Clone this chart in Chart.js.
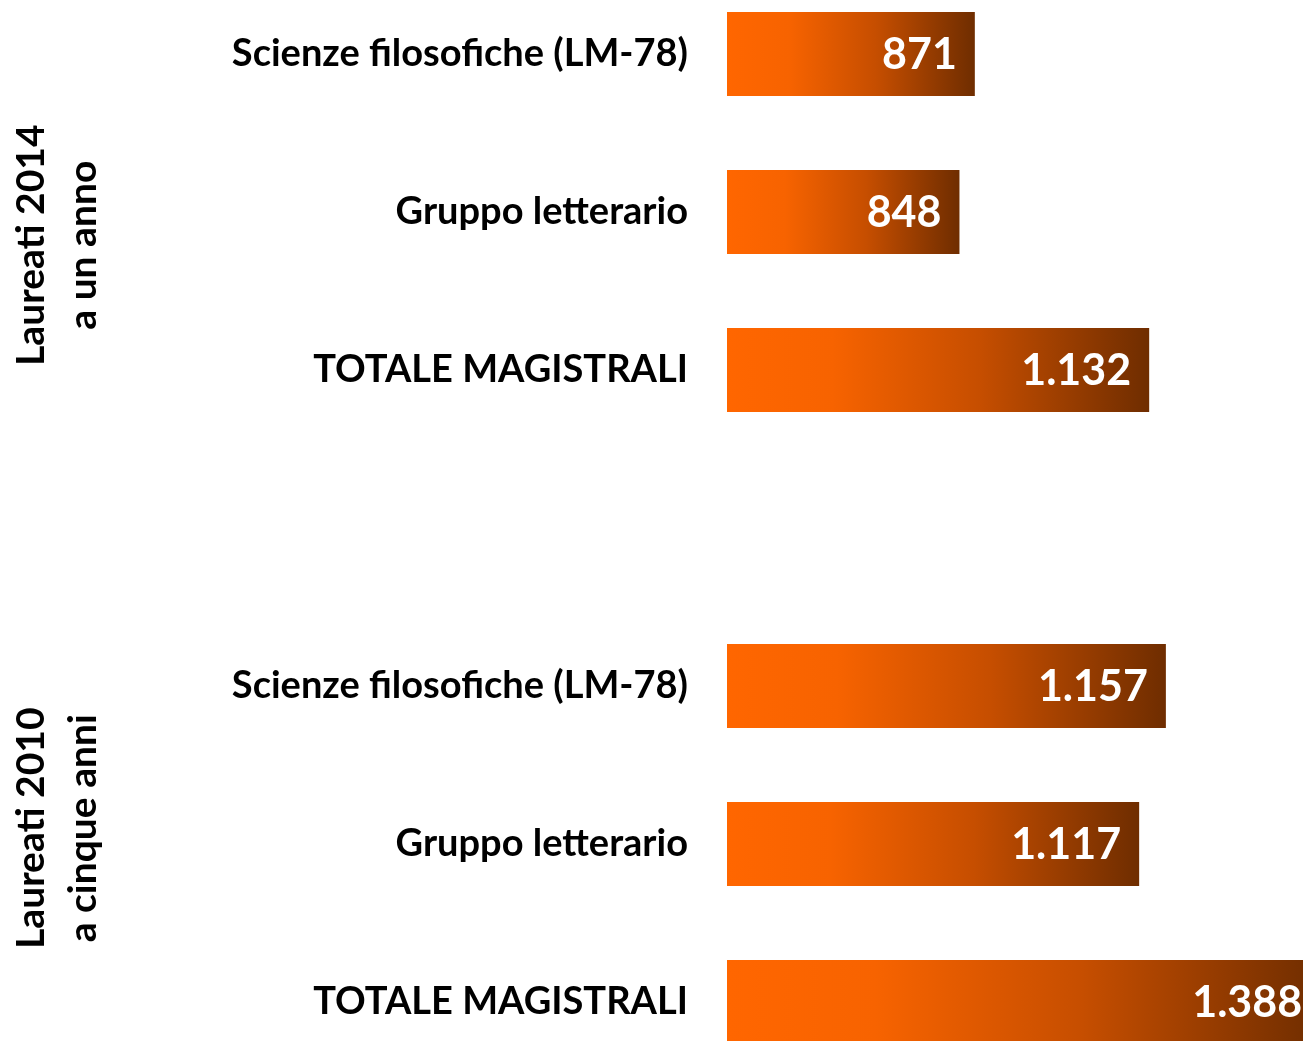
<!DOCTYPE html>
<html>
<head>
<meta charset="utf-8">
<script src="https://cdn.jsdelivr.net/npm/chart.js@4.4.1/dist/chart.umd.min.js"></script>
<style>
  html, body { margin: 0; padding: 0; background: #fff; overflow: hidden; }
  body { width: 1303px; height: 1041px; position: relative; }
  /* the y axis adds tick padding + half a label height above and below the plot */
  #wrap { position: absolute; left: 0; top: -79px; width: 1400px; height: 1214px; }
</style>
</head>
<body>
<div id="wrap"><canvas id="chart"></canvas></div>
<script>
// categories (empty one is the gap between the two groups)
var categories = ['Scienze filosofiche (LM-78)', 'Gruppo letterario', 'TOTALE MAGISTRALI', '',
                  'Scienze filosofiche (LM-78)', 'Gruppo letterario', 'TOTALE MAGISTRALI'];
var values = [871, 848, 1132, null, 1157, 1117, 1388];
var groupLabels = [['Laureati 2014', 'a un anno'], ['Laureati 2010', 'a cinque anni']];
var groupCenters = [1.21, 4.9];   // position along the category axis

var FONT = 'Lato, "Open Sans", sans-serif';

function fmt(v) {
  return String(v).replace(/\B(?=(\d{3})+(?!\d))/g, '.');
}

function barGradient(context) {
  var chart = context.chart;
  if (!chart.chartArea || context.raw == null) return '#ff6600';
  var x = chart.scales.x;
  var x0 = x.getPixelForValue(x.min), x1 = x.getPixelForValue(context.raw);
  var g = chart.ctx.createLinearGradient(x0, 0, x1, 0);
  g.addColorStop(0, '#ff6600');
  g.addColorStop(0.25, '#f76300');
  g.addColorStop(0.6, '#c64e00');
  g.addColorStop(1, '#6f2d00');
  return g;
}

var valueLabels = {
  id: 'valueLabels',
  afterDatasetsDraw: function(chart) {
    var ctx = chart.ctx;
    var meta = chart.getDatasetMeta(0);
    ctx.save();
    ctx.fillStyle = '#ffffff';
    ctx.font = 'bold 43px ' + FONT;
    ctx.textAlign = 'right';
    ctx.textBaseline = 'middle';
    meta.data.forEach(function(el, i) {
      if (values[i] == null) return;
      ctx.fillText(fmt(values[i]), el.x - 18, el.y + 1);
    });
    ctx.restore();
  }
};

var groupText = {
  id: 'groupText',
  afterDraw: function(chart) {
    var ctx = chart.ctx;
    var y = chart.scales.y;
    ctx.save();
    ctx.fillStyle = '#000';
    ctx.font = 'bold 39px ' + FONT;
    ctx.textAlign = 'center';
    ctx.textBaseline = 'middle';
    groupLabels.forEach(function(lines, gi) {
      var cy = y.getPixelForValue(groupCenters[gi]);
      lines.forEach(function(line, li) {
        ctx.save();
        ctx.translate(31 + li * 52, cy);
        ctx.rotate(-Math.PI / 2);
        ctx.fillText(line, 0, 0);
        ctx.restore();
      });
    });
    ctx.restore();
  }
};

new Chart(document.getElementById('chart'), {
  type: 'bar',
  data: {
    labels: categories,
    datasets: [{
      data: values,
      backgroundColor: barGradient,
      borderWidth: 0,
      categoryPercentage: 1,
      barPercentage: 0.532
    }]
  },
  options: {
    indexAxis: 'y',
    responsive: true,
    maintainAspectRatio: false,
    animation: false,
    layout: { padding: { left: 0, right: 5, top: 0, bottom: 0 } },
    plugins: { legend: { display: false }, tooltip: { enabled: false } },
    scales: {
      x: { display: false, min: 500, max: 1500 },
      y: {
        grid: { display: false },
        border: { display: false },
        ticks: { color: '#000', padding: 31, font: { family: FONT, weight: 'bold', size: 38, lineHeight: '46px' } },
        afterFit: function(scale) { scale.width = 727; }
      }
    }
  },
  plugins: [valueLabels, groupText]
});
</script>
</body>
</html>
